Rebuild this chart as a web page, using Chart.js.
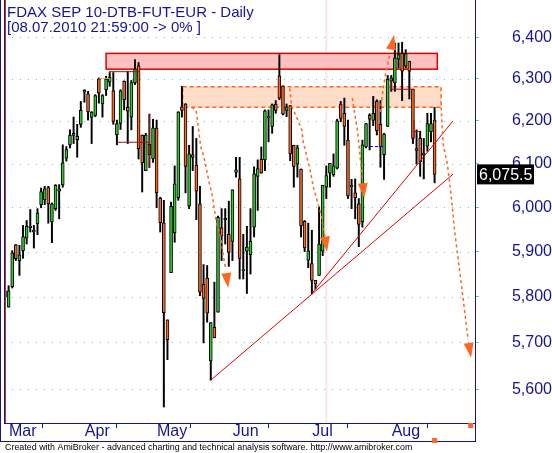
<!DOCTYPE html>
<html>
<head>
<meta charset="utf-8">
<script src="https://cdn.jsdelivr.net/npm/chart.js"></script>
<style>
  html, body { margin: 0; padding: 0; background: #fff; }
  #wrap { width: 552px; height: 453px; }
</style>
</head>
<body>
<div id="wrap"><canvas id="c" width="552" height="453"></canvas></div>
<script>
// FDAX SEP 10 daily bars, 3 Mar .. 19 Aug 2010
const opens = [5799, 5777, 5822, 5915, 5880, 5902, 5930, 5955, 5944, 5963,
  6006, 6017, 6045, 5967, 5997, 6037, 6051, 6113, 6144, 6166,
  6156, 6192, 6268, 6264, 6208, 6213, 6300, 6240, 6274, 6292,
  6271, 6168, 6194, 6294, 6232, 6209, 6290, 6331, 6167, 6084,
  6145, 6111, 6183, 6021, 5965, 5749, 5853, 5942, 6022, 6233,
  6240, 6003, 6121, 6097, 6008, 5827, 5841, 5660, 5733, 5766,
  5954, 5973, 5939, 5923, 6080, 6065, 5858, 5901, 5893, 5955,
  6071, 6110, 6109, 6208, 6187, 6240, 6307, 6283, 6225, 6236,
  6143, 6099, 6088, 5968, 5881, 5873, 5836, 5847, 5901, 6046,
  6078, 6075, 6090, 6240, 6218, 6155, 6048, 6033, 6008, 5967,
  6139, 6213, 6201, 6246, 6192, 6121, 6187, 6294, 6290, 6347,
  6362, 6330, 6342, 6275, 6135, 6159, 6121, 6141, 6175, 6202];
const highs = [5832, 5824, 5902, 5916, 5914, 5959, 5970, 5995, 5959, 5997,
  6044, 6048, 6048, 6010, 6052, 6052, 6144, 6140, 6179, 6209,
  6192, 6246, 6274, 6270, 6222, 6262, 6302, 6262, 6306, 6315,
  6315, 6202, 6274, 6295, 6318, 6296, 6346, 6339, 6167, 6171,
  6216, 6204, 6202, 6023, 6016, 5749, 6012, 6095, 6222, 6282,
  6241, 6143, 6187, 6159, 6048, 5871, 5869, 5743, 5832, 5980,
  5997, 5997, 6014, 6040, 6115, 6115, 5939, 5957, 5997, 6093,
  6109, 6139, 6226, 6226, 6240, 6248, 6358, 6283, 6240, 6236,
  6143, 6143, 6088, 5970, 5964, 5948, 5836, 6001, 6050, 6095,
  6101, 6123, 6204, 6246, 6254, 6202, 6064, 6065, 6020, 6155,
  6194, 6217, 6258, 6250, 6248, 6171, 6308, 6308, 6386, 6386,
  6388, 6370, 6342, 6275, 6179, 6176, 6159, 6218, 6218, 6232];
const lows = [5795, 5777, 5819, 5880, 5847, 5885, 5917, 5944, 5908, 5938,
  5999, 6006, 5964, 5920, 5993, 5974, 6046, 6106, 6137, 6147,
  6115, 6185, 6244, 6202, 6147, 6210, 6242, 6209, 6260, 6282,
  6192, 6144, 6180, 6226, 6147, 6179, 6286, 6111, 6035, 6084,
  6091, 6103, 5999, 5944, 5562, 5663, 5853, 5921, 6016, 6209,
  6033, 5997, 6084, 5972, 5802, 5699, 5744, 5619, 5710, 5766,
  5880, 5917, 5867, 5880, 6069, 5839, 5839, 5807, 5850, 5933,
  5993, 6078, 6084, 6151, 6171, 6218, 6250, 6214, 6210, 6107,
  6046, 6069, 5933, 5900, 5864, 5806, 5817, 5847, 5891, 6020,
  6046, 6071, 6088, 6198, 6143, 6020, 5997, 5974, 5911, 5955,
  6137, 6132, 6189, 6167, 6092, 6064, 6187, 6270, 6270, 6326,
  6248, 6326, 6252, 6147, 6099, 6071, 6065, 6129, 6151, 6056];
const closes = [5813, 5813, 5897, 5884, 5893, 5934, 5957, 5956, 5948, 5987,
  6036, 6042, 6008, 6008, 6050, 6042, 6102, 6133, 6166, 6171,
  6164, 6225, 6273, 6221, 6221, 6260, 6266, 6260, 6299, 6304,
  6199, 6194, 6271, 6250, 6223, 6291, 6323, 6135, 6102, 6167,
  6121, 6184, 6033, 5965, 5765, 5706, 6002, 6054, 6221, 6225,
  6094, 6123, 6115, 6037, 5810, 5796, 5764, 5743, 5710, 5977,
  5935, 5974, 5898, 6040, 6086, 5885, 5859, 5910, 5923, 6077,
  6089, 6079, 6224, 6209, 6238, 6225, 6254, 6216, 6233, 6123,
  6094, 6137, 5958, 5908, 5902, 5836, 5828, 5917, 6050, 6073,
  6101, 6095, 6200, 6206, 6187, 6026, 6049, 6022, 5961, 6144,
  6194, 6204, 6218, 6177, 6139, 6169, 6299, 6302, 6350, 6358,
  6318, 6360, 6318, 6159, 6131, 6105, 6125, 6194, 6194, 6075.5];

const monthLabels = ['Mar', 'Apr', 'May', 'Jun', 'Jul', 'Aug'];
const monthStarts = [0, 21, 41, 62, 84, 106];
const priceTicks = [5600, 5700, 5800, 5900, 6000, 6100, 6200, 6300, 6400];
const selectedBar = 89; // 08.07.2010

// drawn studies, in (bar index, price)
const resistanceZone = [28.0, 119.75, 6323, 6361];
const supplyZone = [49.2, 120.8, 6232, 6281];
const trendLines = [
  [[57.3, 5621], [124.1, 6076]],
  [[85.3, 5810], [124.1, 6200]]
];
const arrowPaths = [
  [[51.7, 6232], [52.9, 6226], [53.3, 6202], [54.2, 6140], [55.1, 6116], [56.6, 6055],
   [57.3, 6032], [58.6, 5964], [59.8, 5930], [60.5, 5889], [61.2, 5859], [61.8, 5819]],
  [[78.9, 6277], [79.4, 6234], [80.3, 6218], [82.2, 6179], [82.6, 6151], [84.5, 6086],
   [85.4, 6047], [86.4, 6017], [87.7, 5979], [88.2, 5949], [88.6, 5934], [89.2, 5900]],
  [[96.2, 6254], [97.0, 6210], [97.6, 6179], [98.1, 6140], [98.5, 6105], [99.0, 6063], [99.5, 6021]],
  [[103.9, 6221], [104.7, 6273], [105.5, 6316], [106.6, 6357], [107.8, 6406]],
  [[120.8, 6232], [121.4, 6144], [122.5, 6101], [123.3, 6047], [123.9, 6002],
   [124.5, 5949], [126.6, 5815], [128.3, 5705], [129.1, 5667]]
];
const stopLines = [
  [[28.8, 6317], [37.4, 6317]],
  [[31.0, 6150], [40.0, 6150]],
  [[40.0, 6216], [40.0, 6090]],
  [[107.0, 6298], [107.0, 6275], [113.3, 6275]],
  [[113.3, 6202], [113.3, 6159]],
  [[113.3, 6175], [115.0, 6175]]
];
const entryLine = [[26.0, 6301], [28.8, 6301]];
const pivotLine = [[101.1, 6140], [105.3, 6140]];
const markerBars = [119, 129];

const navy = '#141496';
const upColor = '#2DCB2D';
const downColor = '#FF6622';
const arrowColor = '#FF6622';
const gridColor = 'rgb(90,200,210)';
const FONT = '"Liberation Sans", Arial, sans-serif';

// bodies get a minimal height so dojis still show as a dash
const bodies = opens.map((o, i) => {
  let lo = Math.min(o, closes[i]), hi = Math.max(o, closes[i]);
  if (hi - lo < 3) { const m = (hi + lo) / 2; lo = m - 1.5; hi = m + 1.5; }
  return { x: i, y: [lo, hi] };
});
const wicks = highs.map((h, i) => ({ x: i, y: [lows[i], h] }));
const bodyColors = opens.map((o, i) => (closes[i] >= o ? upColor : downColor));

function px(chart, pt) {
  return [chart.scales.x.getPixelForValue(pt[0]), chart.scales.y.getPixelForValue(pt[1])];
}

function polyline(ctx, chart, pts) {
  ctx.beginPath();
  pts.forEach((p, k) => {
    const [x, y] = px(chart, p);
    if (k === 0) ctx.moveTo(x, y); else ctx.lineTo(x, y);
  });
  ctx.stroke();
}

function zone(ctx, chart, z, fill, stroke, dash, lw) {
  const [x1, y1] = px(chart, [z[0], z[3]]);
  const [x2, y2] = px(chart, [z[1], z[2]]);
  ctx.fillStyle = fill;
  ctx.fillRect(x1, y1, x2 - x1, y2 - y1);
  ctx.strokeStyle = stroke;
  ctx.lineWidth = lw;
  ctx.setLineDash(dash);
  ctx.strokeRect(x1, y1, x2 - x1, y2 - y1);
  ctx.setLineDash([]);
}

const backdrop = {
  id: 'backdrop',
  beforeDatasetsDraw(chart) {
    const ctx = chart.ctx, a = chart.chartArea;
    ctx.save();
    // dotted price grid
    ctx.fillStyle = gridColor;
    priceTicks.forEach(v => {
      const gy = Math.round(chart.scales.y.getPixelForValue(v));
      for (let gx = 12; gx < a.right - 2; gx += 8) ctx.fillRect(gx, gy, 1, 1);
    });
    // selected bar
    const sx = chart.scales.x.getPixelForValue(selectedBar);
    ctx.fillStyle = '#FFE4E4';
    ctx.fillRect(sx - 1, a.top, 2, a.bottom - a.top);
    zone(ctx, chart, resistanceZone, '#FFC0C0', '#E00000', [], 1.5);
    zone(ctx, chart, supplyZone, '#FFDCC8', arrowColor, [4, 3], 1.5);
    ctx.restore();
  }
};

const overlay = {
  id: 'overlay',
  afterDatasetsDraw(chart) {
    const ctx = chart.ctx, a = chart.chartArea;
    ctx.save();
    // trend lines
    ctx.strokeStyle = '#E00000';
    ctx.lineWidth = 1;
    trendLines.forEach(l => polyline(ctx, chart, l));
    // stop lines
    ctx.strokeStyle = '#A01010';
    stopLines.forEach(l => polyline(ctx, chart, l));
    ctx.strokeStyle = '#FFA050';
    polyline(ctx, chart, entryLine);
    ctx.strokeStyle = '#0000FF';
    ctx.setLineDash([3, 2]);
    polyline(ctx, chart, pivotLine);
    // dashed arrows
    ctx.strokeStyle = arrowColor;
    ctx.lineWidth = 1.5;
    ctx.setLineDash([3, 3]);
    arrowPaths.forEach(path => {
      polyline(ctx, chart, path.slice(0, -1));
      const [bx, by] = px(chart, path[path.length - 2]);
      const [tx, ty] = px(chart, path[path.length - 1]);
      const ang = Math.atan2(ty - by, tx - bx);
      const len = 15, half = 5;
      const cx = tx - Math.cos(ang) * len, cy = ty - Math.sin(ang) * len;
      ctx.setLineDash([]);
      ctx.fillStyle = arrowColor;
      ctx.beginPath();
      ctx.moveTo(tx, ty);
      ctx.lineTo(cx - Math.sin(ang) * half, cy + Math.cos(ang) * half);
      ctx.lineTo(cx + Math.sin(ang) * half, cy - Math.cos(ang) * half);
      ctx.closePath();
      ctx.fill();
      ctx.setLineDash([3, 3]);
    });
    ctx.setLineDash([]);
    // left edge lines
    ctx.lineWidth = 1;
    ctx.strokeStyle = navy;
    ctx.beginPath();
    ctx.moveTo(0.5, 0); ctx.lineTo(0.5, 441);
    ctx.moveTo(4.5, 0); ctx.lineTo(4.5, a.bottom);
    ctx.stroke();
    ctx.strokeStyle = '#C03A10';
    ctx.beginPath();
    ctx.moveTo(5.5, 0); ctx.lineTo(5.5, a.bottom);
    ctx.stroke();
    // title
    ctx.fillStyle = navy;
    ctx.font = '15px ' + FONT;
    ctx.textBaseline = 'alphabetic';
    ctx.textAlign = 'left';
    ctx.fillText('FDAX SEP 10-DTB-FUT-EUR - Daily', 7, 17);
    ctx.fillText('[08.07.2010 21:59:00 -> 0% ]', 7, 32);
    ctx.restore();
  },
  afterDraw(chart) {
    const ctx = chart.ctx, a = chart.chartArea;
    ctx.save();
    // axis box
    ctx.strokeStyle = navy;
    ctx.lineWidth = 1;
    ctx.beginPath();
    ctx.moveTo(0, 441.5); ctx.lineTo(a.right + 1, 441.5);
    ctx.moveTo(a.right + 0.5, a.bottom); ctx.lineTo(a.right + 0.5, 442);
    ctx.stroke();
    // last price label
    const last = closes[closes.length - 1];
    const ly = chart.scales.y.getPixelForValue(last);
    ctx.fillStyle = '#000';
    ctx.fillRect(a.right + 2, ly - 10, 57, 20);
    ctx.fillStyle = '#fff';
    ctx.font = '16px ' + FONT;
    ctx.textBaseline = 'middle';
    ctx.textAlign = 'left';
    ctx.fillText(last.toLocaleString('en-US', { minimumFractionDigits: 1 }), a.right + 4, ly + 1);
    // end markers
    ctx.fillStyle = arrowColor;
    const m0 = chart.scales.x.getPixelForValue(markerBars[0]);
    const m1 = chart.scales.x.getPixelForValue(markerBars[1]);
    ctx.fillRect(m0 - 2.5, 438, 5, 5);
    ctx.fillRect(m1 - 2.5, a.bottom, 5, 5);
    // footer
    const txt = 'Created with AmiBroker - advanced charting and technical analysis software. http://www.amibroker.com';
    ctx.font = '10px ' + FONT;
    const size = 10 * 408 / ctx.measureText(txt).width;
    ctx.font = size.toFixed(2) + 'px ' + FONT;
    ctx.fillStyle = '#000';
    ctx.textBaseline = 'alphabetic';
    ctx.fillText(txt, 5, 450);
    ctx.restore();
  }
};

new Chart(document.getElementById('c'), {
  type: 'bar',
  data: {
    datasets: [
      {
        label: 'body', data: bodies, order: 0, grouped: false,
        backgroundColor: bodyColors, borderColor: '#000', borderWidth: 1,
        borderSkipped: false, barThickness: 3
      },
      {
        label: 'wick', data: wicks, order: 1, grouped: false,
        backgroundColor: '#000', borderWidth: 0, barThickness: 1.3
      }
    ]
  },
  options: {
    responsive: false,
    devicePixelRatio: 1,
    animation: false,
    layout: { autoPadding: false, padding: { left: 4, right: 0, top: 0, bottom: 12 } },
    plugins: { legend: { display: false }, tooltip: { enabled: false }, title: { display: false } },
    scales: {
      x: {
        type: 'linear', offset: false,
        min: -0.277, max: 130.19,
        afterBuildTicks: s => { s.ticks = monthStarts.map(v => ({ value: v })); },
        afterFit: s => { s.height = 18; s.paddingLeft = 0; s.paddingRight = 0; },
        ticks: {
          autoSkip: false, maxRotation: 0, align: 'start', labelOffset: 4, padding: -4,
          color: navy, font: { family: FONT, size: 16, lineHeight: 1 },
          callback: v => monthLabels[monthStarts.indexOf(v)]
        },
        grid: { drawOnChartArea: false, tickColor: navy, tickLength: 5 },
        border: { color: navy }
      },
      y: {
        type: 'logarithmic', position: 'right',
        min: 5528.4, max: 6491.2,
        afterBuildTicks: s => { s.ticks = priceTicks.map(v => ({ value: v })); },
        afterFit: s => { s.width = 77; s.paddingTop = 0; s.paddingBottom = 0; },
        ticks: {
          autoSkip: false, crossAlign: 'far', padding: 30,
          color: navy, font: { family: FONT, size: 16 },
          callback: v => Number(v).toLocaleString('en-US')
        },
        grid: { drawOnChartArea: false, tickColor: gridColor, tickLength: 4, lineWidth: 1 },
        border: { color: navy }
      }
    }
  },
  plugins: [backdrop, overlay]
});
</script>
</body>
</html>
